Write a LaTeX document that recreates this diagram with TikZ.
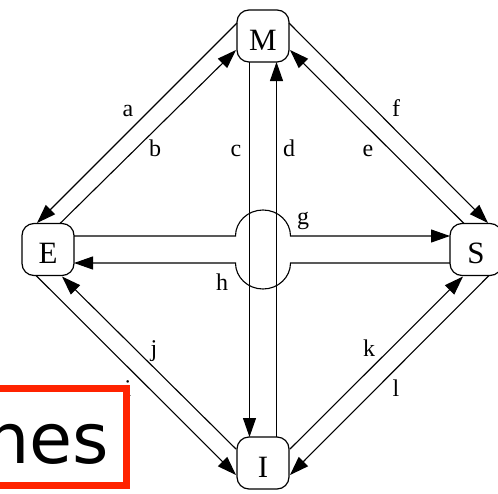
\documentclass[tikz,border=0pt]{standalone}
\usepackage{fontspec}
\setmainfont{Liberation Serif}
\newfontfamily\boxfont{DejaVu Sans}
\usetikzlibrary{arrows.meta,calc}
\definecolor{boxred}{RGB}{255,35,0}
\begin{document}
\begin{tikzpicture}[x=1pt,y=-1pt,
  state/.style={draw, line width=1.2pt, rounded corners=12pt, minimum width=52pt, minimum height=52pt,
    inner sep=0pt, text height=28pt, text depth=0pt, font=\fontsize{31}{31}\selectfont},
  conn/.style={line width=1.1pt, -{Triangle[length=19pt,width=13pt]}},
  lbl/.style={anchor=base, inner sep=0pt, font=\fontsize{24}{24}\selectfont},
  redbox/.style={draw=boxred, line width=7pt, fill=white},
  bigtext/.style={anchor=base east, inner sep=0pt, font=\boxfont\fontsize{70}{70}\selectfont}
  ]
\useasboundingbox (0,0) rectangle (498,493);
\clip (0,0) rectangle (498,493);

% nodes
\node[state] (M) at (263,36) {M};
\node[state] (E) at (48,249.5) {E};
\node[state] (S) at (476,249.5) {S};
\node[state] (I) at (263,463) {I};
\coordinate (X) at (M |- E);

% diagonal connectors
\draw[conn] ($(M)+(-26,-13)$) -- ($(E)+(-11,-26.5)$);   % a
\draw[conn] ($(E)+(12,-26)$) -- ($(M)+(-27,14)$);       % b
\draw[conn] ($(M)+(26,-13)$) -- ($(S)+(12,-26.5)$);     % f
\draw[conn] ($(S)+(-12,-26)$) -- ($(M)+(27,14)$);       % e
\draw[conn] ($(E)+(-12,26)$) -- ($(I)+(-27,12)$);       % i
\draw[conn] ($(I)+(-27,-14)$) -- ($(E)+(14,27)$);       % j
\draw[conn] ($(I)+(27,-14)$) -- ($(S)+(-13,27)$);       % k
\draw[conn] ($(S)+(13,26)$) -- ($(I)+(27,12)$);         % l

% vertical connectors
\draw[conn] ($(M)+(-13.5,26)$) -- ($(I)+(-13.5,-26)$);  % c
\draw[conn] ($(I)+(13.5,-26)$) -- ($(M)+(13.5,26)$);    % d

% horizontal connectors with crossing hump
\draw[conn] ($(E)+(26,-13.5)$) -- ($(X)+(-27.5,-13.5)$)
  arc[start angle=180,end angle=0,x radius=27.5pt,y radius=26pt]
  -- ($(S)+(-26,-13.5)$);                                % g
\draw[conn] ($(S)+(-26,13.5)$) -- ($(X)+(27.5,13.5)$)
  arc[start angle=0,end angle=-180,x radius=27.5pt,y radius=26pt]
  -- ($(E)+(26,13.5)$);                                  % h

% labels
\node[lbl] (la) at (128,116.7) {a};
\node[lbl] (lb) at (155,156.7) {b};
\node[lbl] (lc) at (236,156.7) {c};
\node[lbl] (ld) at (289,156.7) {d};
\node[lbl] (le) at (368,156.7) {e};
\node[lbl] (lf) at (396,116.7) {f};
\node[lbl] (lg) at (303,224) {g};
\node[lbl] (lh) at (222,290) {h};
\node[lbl] (lj) at (154,356.7) {j};
\node[lbl] (lk) at (369,356.7) {k};
\node[lbl] (ll) at (396,396.7) {l};
\node[lbl] (li) at (128,396.7) {i};

% red box overlay
\draw[redbox] (-50,388.5) rectangle (126.5,485.5);
\node[bigtext] (nes) at (109.3,463) {nes};
\end{tikzpicture}
\end{document}
